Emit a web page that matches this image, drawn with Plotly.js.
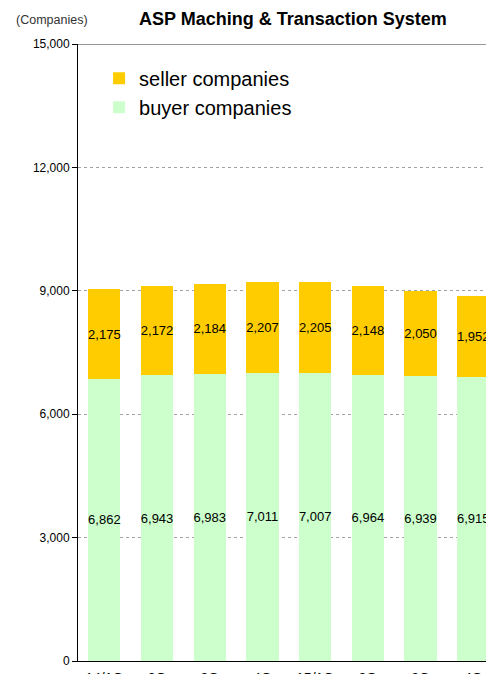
<!DOCTYPE html>
<html>
<head>
<meta charset="utf-8">
<script src="https://cdn.plot.ly/plotly-3.0.1.min.js"></script>
<style>
  html, body { margin: 0; padding: 0; overflow: hidden; background: #fff; width: 486px; height: 674px; }
  #chart { position: absolute; left: 0; top: 0; width: 620px; height: 700px; }
  #frame { position: absolute; left: 4px; top: 38px; width: 4px; height: 621px;
           border: 2px dotted #b0b0b0; border-right: none; }
</style>
</head>
<body>
<div id="frame"></div>
<div id="chart"></div>
<script>
// ---- data ----
const categories = ["14/1Q", "14/2Q", "14/3Q", "14/4Q", "15/1Q", "15/2Q", "15/3Q", "15/4Q"];
const tickLabels = ["14/1Q", "2Q", "3Q", "4Q", "15/1Q", "2Q", "3Q", "4Q"];
const buyerCompanies = [6862, 6943, 6983, 7011, 7007, 6964, 6939, 6915];
const sellerCompanies = [2175, 2172, 2184, 2207, 2205, 2148, 2050, 1952];
const yTickVals = [0, 3000, 6000, 9000, 12000, 15000];

const fmt = v => v.toLocaleString("en-US");
const FONT = "Liberation Sans, Arial, sans-serif";

const buyer = {
  type: "bar", name: "buyer companies", x: categories, y: buyerCompanies,
  text: buyerCompanies.map(fmt), textposition: "inside", insidetextanchor: "middle",
  textangle: 0, constraintext: "none", cliponaxis: false,
  textfont: { family: FONT, size: 13, color: "#000" },
  marker: { color: "#CCFFCC", line: { width: 0 } },
  hoverinfo: "skip"
};
const seller = {
  type: "bar", name: "seller companies", x: categories, y: sellerCompanies,
  text: sellerCompanies.map(fmt), textposition: "inside", insidetextanchor: "middle",
  textangle: 0, constraintext: "none", cliponaxis: false,
  textfont: { family: FONT, size: 13, color: "#000" },
  marker: { color: "#FFCC00", line: { width: 0 } },
  hoverinfo: "skip"
};

const layout = {
  width: 620, height: 700,
  margin: { l: 78, r: 15, t: 44, b: 39 },
  paper_bgcolor: "#fff", plot_bgcolor: "#fff",
  barmode: "stack", bargap: 0.39,
  font: { family: FONT, size: 12, color: "#000" },
  title: {
    text: "<b>ASP Maching &amp; Transaction System</b>",
    font: { family: FONT, size: 18, color: "#000" },
    xref: "container", x: 293 / 620, xanchor: "center",
    yref: "container", y: 1 - 19 / 700, yanchor: "middle"
  },
  showlegend: true,
  legend: {
    x: 0.04, y: 0.976, xanchor: "left", yanchor: "top",
    traceorder: "reversed", bgcolor: "rgba(0,0,0,0)",
    font: { family: FONT, size: 20, color: "#000" },
    itemwidth: 30, tracegroupgap: 0
  },
  xaxis: {
    type: "category", range: [-0.5, 9.5],
    tickvals: categories, ticktext: tickLabels,
    showline: true, linecolor: "#000", linewidth: 1, mirror: false,
    showgrid: false, ticks: "", zeroline: false, ticklabelstandoff: 4,
    tickfont: { family: FONT, size: 14, color: "#000" }
  },
  yaxis: {
    range: [0, 15000], tickvals: yTickVals, ticktext: yTickVals.map(fmt),
    showline: true, linecolor: "#000", linewidth: 1,
    ticks: "outside", ticklen: 5, tickcolor: "#000",
    showgrid: true, gridcolor: "#a0a0a0", griddash: "dot", gridwidth: 1,
    zeroline: false,
    tickfont: { family: FONT, size: 12, color: "#000" }
  },
  shapes: [
    { type: "line", xref: "paper", yref: "y", x0: 0, x1: 1, y0: 15000, y1: 15000,
      line: { color: "#303030", width: 1 } }
  ],
  annotations: [
    { text: "(Companies)", xref: "paper", yref: "paper",
      x: (14 - 78) / 527, xanchor: "left", y: (661 - 20) / 617, yanchor: "middle",
      showarrow: false, font: { family: FONT, size: 12.5, color: "#333" } }
  ]
};

Plotly.newPlot("chart", [buyer, seller], layout, { staticPlot: true, displayModeBar: false });
</script>
</body>
</html>
